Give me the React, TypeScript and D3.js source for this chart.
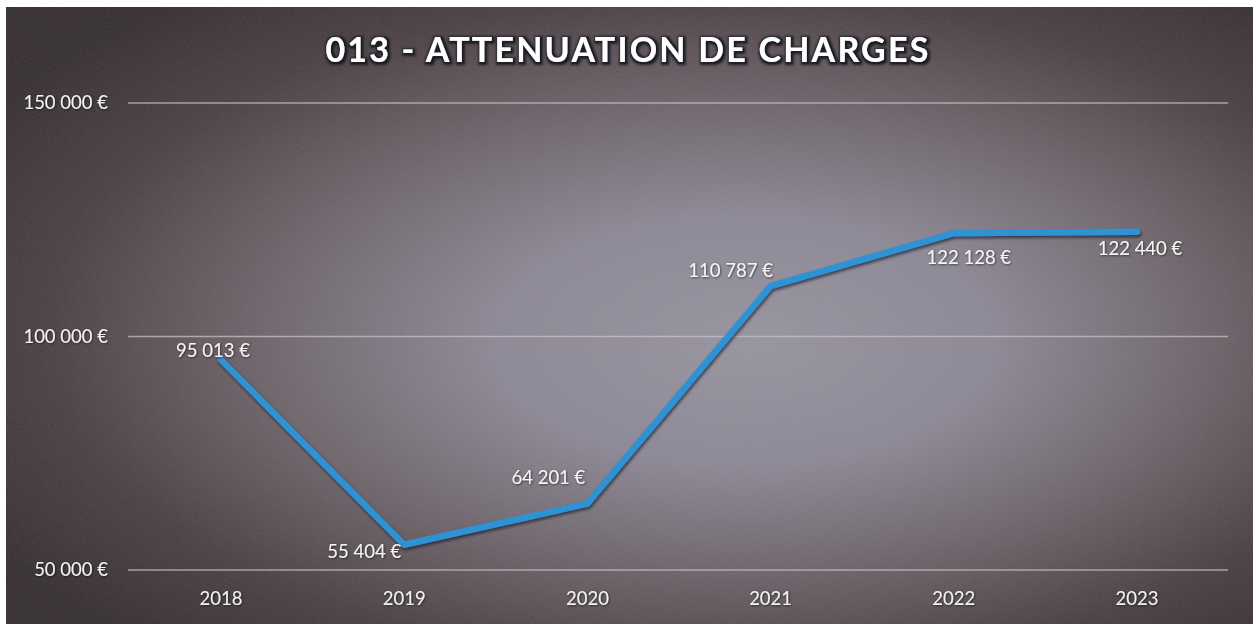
import React from "react";
import * as d3 from "d3";

const years = ["2018", "2019", "2020", "2021", "2022", "2023"];
const values = [95013, 55404, 64201, 110787, 122128, 122440];
const yTicks = [50000, 100000, 150000];
const title = "013 - ATTENUATION DE CHARGES";
// label centre offsets relative to the point (as placed in the original)
const labelDx = [-8, -40, -39, -40, 15, 3];
const labelDy = [-9, 7, -26, -16, 24, 17];

const W = 1253;
const H = 624;
const FONT = "Lato, 'Open Sans', 'DejaVu Sans', sans-serif";

const fmt = (v: number) => d3.format(",")(v).replace(/,/g, " ") + " €";

export default function App() {
  const x = d3.scalePoint<string>().domain(years).range([221, 1137]);
  const y = d3.scaleLinear().domain([50000, 150000]).range([570, 103]);
  const line = d3
    .line<number>()
    .x((_, i) => x(years[i]) as number)
    .y((d) => y(d));
  const path = line(values) || "";

  return (
    <svg
      width={W}
      height={H}
      style={{ position: "absolute", left: 0, top: 0, display: "block" }}
    >
      <defs>
        <radialGradient id="bg" cx="0.57" cy="0.52" r="0.68" fx="0.6" fy="0.55">
          <stop offset="0" stopColor="#95939f" />
          <stop offset="0.3" stopColor="#8a8693" />
          <stop offset="0.55" stopColor="#6c6369" />
          <stop offset="0.8" stopColor="#463c3e" />
          <stop offset="1" stopColor="#312a2b" />
        </radialGradient>
        <filter id="noise" x="0" y="0" width="100%" height="100%">
          <feTurbulence type="fractalNoise" baseFrequency="0.9" numOctaves="2" seed="3" result="n" />
          <feColorMatrix
            in="n"
            type="matrix"
            values="0 0 0 0 0.5  0 0 0 0 0.45  0 0 0 0 0.5  0 0 0 0.18 0"
          />
        </filter>
        <filter id="lineShadow" x="-5%" y="-5%" width="110%" height="120%">
          <feDropShadow dx="1" dy="2" stdDeviation="1.5" floodColor="#101020" floodOpacity="0.7" />
        </filter>
        <filter id="titleShadow" x="-5%" y="-30%" width="110%" height="160%">
          <feMorphology in="SourceAlpha" operator="dilate" radius="1.6" result="d" />
          <feGaussianBlur in="d" stdDeviation="0.8" result="b" />
          <feFlood floodColor="#1a1a22" floodOpacity="0.95" />
          <feComposite in2="b" operator="in" result="s" />
          <feOffset in="s" dx="1" dy="1" result="so" />
          <feMerge>
            <feMergeNode in="so" />
            <feMergeNode in="SourceGraphic" />
          </feMerge>
        </filter>
        <filter id="textShadow" x="-5%" y="-30%" width="110%" height="160%">
          <feDropShadow dx="0.8" dy="0.8" stdDeviation="0.8" floodColor="#000" floodOpacity="0.6" />
        </filter>
      </defs>

      <rect x={0} y={0} width={W} height={H} fill="#ffffff" />
      <rect x={6} y={7} width={W - 6} height={H - 7} fill="url(#bg)" />
      <rect x={6} y={7} width={W - 6} height={H - 7} filter="url(#noise)" />

      <text
        x={628}
        y={62}
        textAnchor="middle"
        fill="#ffffff"
        fontFamily={FONT}
        fontWeight={700}
        fontSize={34}
        letterSpacing={2.2}
        filter="url(#titleShadow)"
      >
        {title}
      </text>

      {yTicks.map((t) => (
        <g key={t}>
          <line
            x1={128}
            x2={1228}
            y1={y(t)}
            y2={y(t)}
            stroke="#c8bfc6"
            strokeOpacity={0.75}
            strokeWidth={1.5}
          />
          <text
            x={108}
            y={y(t)}
            dy="0.35em"
            textAnchor="end"
            fill="#f2f2f2"
            fontFamily={FONT}
            fontSize={18.5}
            filter="url(#textShadow)"
          >
            {fmt(t)}
          </text>
        </g>
      ))}

      {years.map((yr) => (
        <text
          key={yr}
          x={x(yr) as number}
          y={599}
          dy="0.35em"
          textAnchor="middle"
          fill="#f2f2f2"
          fontFamily={FONT}
          fontSize={18.5}
          filter="url(#textShadow)"
        >
          {yr}
        </text>
      ))}

      <path
        d={path}
        fill="none"
        stroke="#2f92d3"
        strokeWidth={6.5}
        strokeLinejoin="round"
        strokeLinecap="round"
        filter="url(#lineShadow)"
      />

      {values.map((v, i) => (
        <text
          key={i}
          x={(x(years[i]) as number) + labelDx[i]}
          y={y(v) + labelDy[i]}
          dy="0.35em"
          textAnchor="middle"
          fill="#f4f4f4"
          fontFamily={FONT}
          fontSize={18.5}
          filter="url(#textShadow)"
        >
          {fmt(v)}
        </text>
      ))}
    </svg>
  );
}
